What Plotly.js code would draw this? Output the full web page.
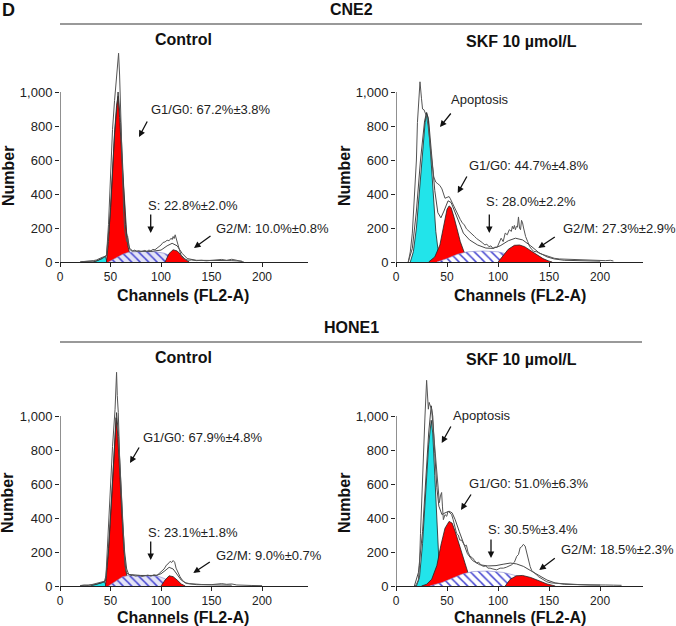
<!DOCTYPE html>
<html>
<head>
<meta charset="utf-8">
<script src="https://cdn.plot.ly/plotly-3.0.1.min.js"></script>
<style>
  html, body { margin: 0; padding: 0; background: #fff; }
  #plot { width: 676px; height: 626px; }
</style>
</head>
<body>
<div id="plot"></div>
<script>
// Cell-cycle histograms, values (channel, number of cells)

let cellLines = ['CNE2', 'HONE1'];
let treatments = ['Control', 'SKF 10 µmol/L'];
let xTicks = [0, 50, 100, 150, 200];
let yTicks = [0, 200, 400, 600, 800, 1000];

// --- CNE2, control ---
let cneCtrlRawX = [22, 26, 30, 33, 36, 38, 40, 42, 44, 46, 48, 50, 52, 54, 56, 57, 58, 59, 60, 61, 62, 63, 64, 65, 66, 67, 68, 69, 70, 72, 74, 76, 78, 80, 82, 84, 86, 88, 90, 92, 94, 96, 98, 100, 102, 104, 106, 108, 110, 111, 112, 113, 114, 115, 116, 117, 118, 119, 120, 122, 124, 126, 128, 130, 135, 140, 145, 150, 155, 160, 165, 170, 175, 178, 182];
let cneCtrlRawY = [2, 4, 3, 8, 12, 18, 22, 28, 30, 35, 220, 520, 780, 950, 1080, 1150, 1228, 1100, 880, 640, 460, 300, 190, 140, 120, 150, 90, 75, 68, 64, 70, 62, 66, 60, 64, 68, 62, 70, 66, 74, 72, 80, 92, 100, 115, 118, 128, 125, 140, 132, 150, 138, 160, 140, 120, 100, 75, 55, 35, 22, 15, 12, 10, 12, 8, 10, 7, 9, 12, 15, 10, 16, 10, 4, 0];
let cneCtrlFitX = [20, 35, 42, 46, 50, 54, 57.5, 60, 63, 66, 69, 72, 90, 100, 106, 111, 116, 121, 126, 135, 170, 180];
let cneCtrlFitY = [2, 5, 20, 40, 300, 750, 1000, 820, 450, 170, 80, 65, 62, 70, 95, 110, 95, 50, 20, 10, 8, 5];
let cneCtrlApopX = [33, 38, 42, 45, 46.5];
let cneCtrlApopY = [0, 10, 25, 35, 0];
let cneCtrlG1X = [46, 48, 50, 52, 54, 56, 57.5, 59, 61, 63, 65, 67, 69, 71];
let cneCtrlG1Y = [0, 120, 320, 560, 760, 920, 975, 850, 620, 400, 220, 100, 40, 0];
let cneCtrlSX = [48, 55, 62, 68, 80, 95, 103, 110, 115, 119];
let cneCtrlSY = [0, 25, 45, 58, 62, 60, 52, 35, 15, 0];
let cneCtrlG2X = [104, 108, 112, 116, 120, 124, 128];
let cneCtrlG2Y = [0, 50, 72, 65, 40, 15, 0];

// --- CNE2, SKF 10 umol/L ---
let cneSkfRawX = [12, 14, 16, 18, 20, 21, 22, 23.5, 25, 26, 27.5, 29, 30, 31.5, 33, 35, 37, 39, 41, 43, 45, 47, 48, 50, 52, 53, 55, 57, 59, 61, 63, 65, 67, 69, 71, 73, 75, 77, 79, 81, 83, 85, 87, 89, 91, 93, 95, 97, 99, 101, 103, 105, 107, 109, 111, 113, 114, 115, 116, 117, 118, 119, 120, 121, 122, 123, 124, 125, 127, 129, 131, 133, 135, 138, 141, 145, 150, 155, 160, 170, 180, 190, 200, 205, 210, 213];
let cneSkfRawY = [0, 60, 170, 380, 600, 820, 950, 1060, 960, 900, 895, 870, 855, 800, 700, 600, 500, 470, 460, 450, 430, 390, 375, 380, 385, 375, 350, 325, 290, 265, 250, 230, 218, 195, 185, 170, 160, 150, 138, 130, 125, 112, 100, 105, 90, 95, 80, 88, 85, 110, 140, 120, 170, 160, 190, 180, 210, 195, 215, 190, 210, 205, 265, 200, 190, 245, 230, 200, 150, 120, 90, 75, 62, 60, 50, 42, 30, 22, 18, 15, 14, 12, 10, 8, 10, 6];
let cneSkfFitX = [12, 16, 20, 24, 28, 30, 32, 35, 38, 41, 44, 47, 51, 54, 58, 62, 66, 72, 80, 88, 95, 102, 110, 117, 124, 132, 140, 148, 155, 165, 200];
let cneSkfFitY = [0, 80, 300, 600, 830, 880, 830, 620, 420, 290, 260, 300, 360, 350, 290, 220, 170, 130, 100, 82, 80, 95, 125, 140, 130, 95, 55, 30, 18, 10, 5];
let cneSkfApopX = [14, 17, 20, 23, 26, 28.5, 30, 31.5, 33, 35, 37, 39, 41, 43, 44];
let cneSkfApopY = [0, 60, 200, 420, 650, 820, 875, 850, 720, 520, 330, 180, 80, 20, 0];
let cneSkfG1X = [32, 38, 43, 47, 50, 52, 54, 57, 60, 63, 66, 68, 72];
let cneSkfG1Y = [0, 30, 100, 220, 310, 330, 320, 260, 190, 120, 70, 40, 0];
let cneSkfSX = [40, 50, 60, 70, 85, 100, 110, 120, 130, 133];
let cneSkfSY = [0, 20, 45, 60, 65, 60, 45, 25, 5, 0];
let cneSkfG2X = [100, 104, 110, 116, 121, 126, 132, 138, 144, 150, 153];
let cneSkfG2Y = [0, 30, 75, 98, 100, 90, 65, 40, 20, 5, 0];

// --- HONE1, control ---
let honeCtrlRawX = [20, 24, 28, 31, 34, 37, 40, 42, 44, 45.5, 47, 49.5, 52, 54.5, 55.5, 56, 56.7, 57.7, 59, 61, 62.5, 64.4, 66, 68, 70, 72, 75, 78, 81, 84, 87, 90, 93, 96, 98, 100.7, 103, 105.6, 107, 109, 110.5, 112, 113.5, 114.9, 116.5, 118.8, 121, 123.8, 128, 132, 140, 150, 155, 160, 165, 170, 175, 180, 190, 200];
let honeCtrlRawY = [2, 5, 3, 8, 12, 18, 20, 24, 28, 60, 250, 510, 820, 1040, 1150, 1257, 1120, 1020, 760, 510, 300, 115, 75, 70, 60, 64, 58, 62, 56, 60, 64, 58, 66, 62, 74, 85, 100, 125, 130, 145, 138, 150, 140, 105, 80, 55, 35, 20, 14, 12, 9, 8, 12, 14, 10, 12, 6, 4, 3, 2];
let honeCtrlFitX = [20, 35, 42, 45, 48, 51, 54, 56, 58, 60, 62, 64, 66, 68, 80, 95, 100, 105, 108, 112, 116, 120, 125, 135, 170];
let honeCtrlFitY = [3, 8, 20, 30, 220, 520, 870, 1020, 880, 620, 380, 200, 100, 68, 62, 62, 72, 95, 110, 100, 70, 35, 15, 8, 5];
let honeCtrlApopX = [30, 35, 40, 44, 46];
let honeCtrlApopY = [0, 8, 15, 25, 0];
let honeCtrlG1X = [45, 48, 51, 54, 55.5, 57, 59, 61, 63, 65, 67, 68];
let honeCtrlG1Y = [0, 200, 500, 850, 990, 900, 650, 420, 230, 100, 30, 0];
let honeCtrlSX = [48, 55, 62, 68, 85, 97, 103, 110, 115, 118];
let honeCtrlSY = [0, 30, 55, 62, 62, 58, 45, 25, 8, 0];
let honeCtrlG2X = [100, 104, 108, 112, 116, 120, 124];
let honeCtrlG2Y = [0, 35, 60, 55, 35, 12, 0];

// --- HONE1, SKF 10 umol/L ---
let honeSkfRawX = [18.6, 20, 21.9, 23, 24, 25.5, 26.8, 28.4, 30, 31, 31.7, 32.5, 33.3, 34.1, 34.9, 36, 37.3, 38.6, 39.9, 41, 42.5, 43.5, 44.7, 45.5, 46.4, 48, 49.7, 51, 52.9, 54.5, 56, 57.5, 59.3, 61, 62.5, 64.2, 66, 67.5, 69, 70.5, 72.5, 75, 77, 79, 81, 83, 85.6, 88, 90, 92.2, 95, 98.7, 102, 105.2, 108, 111, 113.4, 116, 118.3, 120, 121.6, 123, 124.8, 126.5, 128, 129.5, 131.4, 133, 135.3, 137, 139.5, 143, 147.7, 152, 158, 164, 172, 180, 190, 197, 205, 213, 221];
let honeSkfRawY = [0, 10, 35, 120, 310, 560, 805, 1000, 1210, 1100, 1040, 1080, 1060, 1050, 1040, 960, 865, 760, 650, 560, 490, 530, 550, 470, 390, 420, 410, 440, 430, 420, 390, 350, 310, 300, 270, 270, 255, 235, 240, 200, 175, 165, 150, 135, 140, 125, 115, 118, 105, 105, 100, 95, 105, 105, 110, 118, 125, 140, 175, 185, 225, 230, 245, 235, 195, 150, 115, 90, 75, 70, 55, 40, 25, 18, 15, 12, 10, 8, 6, 8, 6, 5, 4];
let honeSkfFitX = [18, 22, 26, 29, 32, 34.5, 36, 38, 40, 42, 45, 48, 52, 55, 58, 62, 66, 70, 75, 82, 90, 98, 105, 112, 118, 125, 132, 140, 148, 156, 165, 200];
let honeSkfFitY = [0, 80, 320, 620, 900, 1060, 1000, 780, 580, 470, 420, 430, 440, 430, 390, 320, 250, 190, 150, 125, 118, 120, 128, 135, 130, 115, 90, 60, 35, 18, 10, 5];
let honeSkfApopX = [20, 23, 26, 29, 32, 34.5, 36, 38, 40, 42, 44, 45];
let honeSkfApopY = [0, 50, 250, 550, 830, 975, 900, 650, 380, 150, 30, 0];
let honeSkfG1X = [25, 30, 35, 40, 44, 48, 52, 55, 58, 62, 66, 70, 73, 75];
let honeSkfG1Y = [0, 10, 40, 120, 240, 340, 380, 370, 320, 240, 160, 80, 30, 0];
let honeSkfSX = [33, 45, 55, 65, 75, 90, 105, 115, 125, 135, 145, 152];
let honeSkfSY = [0, 20, 45, 70, 85, 88, 80, 65, 45, 25, 8, 0];
let honeSkfG2X = [107, 112, 118, 124, 132, 140, 148, 156];
let honeSkfG2Y = [0, 40, 60, 62, 50, 30, 12, 0];

// phase labels shown next to the arrows
let cneCtrlLabels = ['G1/G0: 67.2%±3.8%', 'S: 22.8%±2.0%', 'G2/M: 10.0%±0.8%'];
let cneSkfLabels = ['Apoptosis', 'G1/G0: 44.7%±4.8%', 'S: 28.0%±2.2%', 'G2/M: 27.3%±2.9%'];
let honeCtrlLabels = ['G1/G0: 67.9%±4.8%', 'S: 23.1%±1.8%', 'G2/M: 9.0%±0.7%'];
let honeSkfLabels = ['Apoptosis', 'G1/G0: 51.0%±6.3%', 'S: 30.5%±3.4%', 'G2/M: 18.5%±2.3%'];

// ---------------------------------------------------------------------------
const W = 676, H = 626;
const FONT = 'Liberation Sans, Arial, sans-serif';
function px(x) { return x / W; }
function py(y) { return 1 - y / H; }

// label placement, in page pixels: [text left, text middle, arrow head x, head y, tail dx, tail dy]
let panels = [
  { ax: '', raw: [cneCtrlRawX, cneCtrlRawY], fit: [cneCtrlFitX, cneCtrlFitY], apop: [cneCtrlApopX, cneCtrlApopY],
    g1: [cneCtrlG1X, cneCtrlG1Y], s: [cneCtrlSX, cneCtrlSY], g2: [cneCtrlG2X, cneCtrlG2Y], hatchBg: '#e4e4f6',
    labels: cneCtrlLabels,
    pos: [[149, 110, 139, 137, 9, -17], [146, 205, 150.7, 233, 0, -20], [214, 228, 194, 248, 18, -13]] },
  { ax: '2', raw: [cneSkfRawX, cneSkfRawY], fit: [cneSkfFitX, cneSkfFitY], apop: [cneSkfApopX, cneSkfApopY],
    g1: [cneSkfG1X, cneSkfG1Y], s: [cneSkfSX, cneSkfSY], g2: [cneSkfG2X, cneSkfG2Y], hatchBg: '#ffffff',
    labels: cneSkfLabels,
    pos: [[449, 100, 440, 127, 12, -15], [467, 165, 457.7, 193, 10, -18], [484, 202, 489.3, 233, 0, -20], [561, 228, 538.3, 248, 18, -12]] },
  { ax: '3', raw: [honeCtrlRawX, honeCtrlRawY], fit: [honeCtrlFitX, honeCtrlFitY], apop: [honeCtrlApopX, honeCtrlApopY],
    g1: [honeCtrlG1X, honeCtrlG1Y], s: [honeCtrlSX, honeCtrlSY], g2: [honeCtrlG2X, honeCtrlG2Y], hatchBg: '#e4e4f6',
    labels: honeCtrlLabels,
    pos: [[141, 437, 130, 463, 10, -17], [146, 532, 150.7, 560, 0, -20], [214, 555, 193.3, 573, 18, -12]] },
  { ax: '4', raw: [honeSkfRawX, honeSkfRawY], fit: [honeSkfFitX, honeSkfFitY], apop: [honeSkfApopX, honeSkfApopY],
    g1: [honeSkfG1X, honeSkfG1Y], s: [honeSkfSX, honeSkfSY], g2: [honeSkfG2X, honeSkfG2Y], hatchBg: '#ffffff',
    labels: honeSkfLabels,
    pos: [[451, 415, 441.7, 443, 10, -18], [467, 483, 461, 510, 11, -17], [486, 529, 491, 558, 0, -20], [559, 549, 539.3, 570, 17, -13]] }
];

let data = [];
let annotations = [];
let shapes = [];

panels.forEach(function (p) {
  let xa = 'x' + p.ax, ya = 'y' + p.ax;
  let area = function (xy, color, extra) {
    return Object.assign({
      x: xy[0], y: xy[1], xaxis: xa, yaxis: ya, type: 'scatter', mode: 'lines',
      fill: 'tozeroy', fillcolor: color, line: { color: '#222', width: 0.8 },
      hoverinfo: 'skip', showlegend: false
    }, extra || {});
  };
  data.push(area(p.apop, '#22e4ea'));
  data.push(area(p.g1, '#ff0000'));
  data.push(area(p.s, 'rgba(0,0,0,0)', {
    line: { color: '#8888cc', width: 0.6 },
    fillpattern: { shape: '\\', fgcolor: '#4040d0', bgcolor: p.hatchBg, size: 6, solidity: 0.25 }
  }));
  data.push(area(p.g2, '#ff0000'));
  data.push({ x: p.fit[0], y: p.fit[1], xaxis: xa, yaxis: ya, type: 'scatter', mode: 'lines',
    line: { color: '#333', width: 0.9 }, hoverinfo: 'skip', showlegend: false });
  data.push({ x: p.raw[0], y: p.raw[1], xaxis: xa, yaxis: ya, type: 'scatter', mode: 'lines',
    line: { color: '#555', width: 1 }, hoverinfo: 'skip', showlegend: false });

  // y axis line only spans 0..1000
  shapes.push({ type: 'line', xref: xa, yref: ya, x0: 0, x1: 0, y0: 0, y1: 1000,
    line: { color: '#222', width: 1 } });

  p.labels.forEach(function (t, i) {
    let q = p.pos[i];
    annotations.push({ xref: 'paper', yref: 'paper', x: px(q[0]), y: py(q[1]), text: t,
      xanchor: 'left', yanchor: 'middle', showarrow: false, font: { family: FONT, size: 13, color: '#222' } });
    annotations.push({ xref: 'paper', yref: 'paper', x: px(q[2]), y: py(q[3]), text: '',
      showarrow: true, ax: q[4], ay: q[5], axref: 'pixel', ayref: 'pixel',
      arrowhead: 2, arrowsize: 1, arrowwidth: 1.3, arrowcolor: '#111' });
  });
});

// header texts
function label(t, x, y, size, extra) {
  annotations.push(Object.assign({ xref: 'paper', yref: 'paper', x: px(x), y: py(y), text: t,
    showarrow: false, xanchor: 'center', yanchor: 'middle',
    font: { family: FONT, size: size, color: '#111', weight: 'bold' } }, extra || {}));
}
label('D', 8, 10, 18);
label(cellLines[0], 351, 10, 16);
label(cellLines[1], 351, 327, 16);
[[40, 183, 521], [357, 183, 521]].forEach(function (r) {
  label(treatments[0], r[1], r[0], 16);
  label(treatments[1], r[2], r[0] + 2, 16);
});
[[183, 296], [520, 296], [183, 617], [520, 617]].forEach(function (c) {
  label('Channels (FL2-A)', c[0], c[1], 16);
});
[[8, 176], [344, 176], [8, 503], [345, 503]].forEach(function (c) {
  label('Number', c[0], c[1], 16, { textangle: -90 });
});
[24, 342].forEach(function (yy) {
  shapes.push({ type: 'line', xref: 'paper', yref: 'paper', x0: px(60), x1: px(642), y0: py(yy), y1: py(yy),
    line: { color: '#777', width: 1.3 } });
});

function xAxis(dom, maxX, anchor) {
  return { domain: dom, range: [0, maxX], anchor: anchor, tickvals: xTicks, ticks: 'outside', ticklen: 4,
    tickcolor: '#222', showline: true, linecolor: '#222', linewidth: 1, showgrid: false, zeroline: false,
    ticklabelstandoff: 0,
    tickfont: { family: FONT, size: 12, color: '#222' }, fixedrange: true };
}
function yAxis(dom, anchor) {
  return { domain: dom, range: [0, 1270], anchor: anchor, tickvals: yTicks, tickformat: ',', ticks: 'outside',
    ticklen: 4, tickcolor: '#222', showline: false, showgrid: false, zeroline: false,
    tickfont: { family: FONT, size: 13, color: '#222' }, fixedrange: true };
}
let leftDom = [px(60), px(308)], rightDom = [px(396), px(643)];
let topDom = [py(262), py(46.1)], botDom = [py(586), py(370.1)];

let layout = {
  width: W, height: H,
  margin: { l: 0, r: 0, t: 0, b: 0 },
  paper_bgcolor: '#fff', plot_bgcolor: '#fff',
  showlegend: false,
  xaxis: xAxis(leftDom, 245.5, 'y'), yaxis: yAxis(topDom, 'x'),
  xaxis2: xAxis(rightDom, 242, 'y2'), yaxis2: yAxis(topDom, 'x2'),
  xaxis3: xAxis(leftDom, 245.5, 'y3'), yaxis3: yAxis(botDom, 'x3'),
  xaxis4: xAxis(rightDom, 242, 'y4'), yaxis4: yAxis(botDom, 'x4'),
  annotations: annotations,
  shapes: shapes
};

Plotly.newPlot('plot', data, layout, { staticPlot: true, displayModeBar: false });
</script>
</body>
</html>
